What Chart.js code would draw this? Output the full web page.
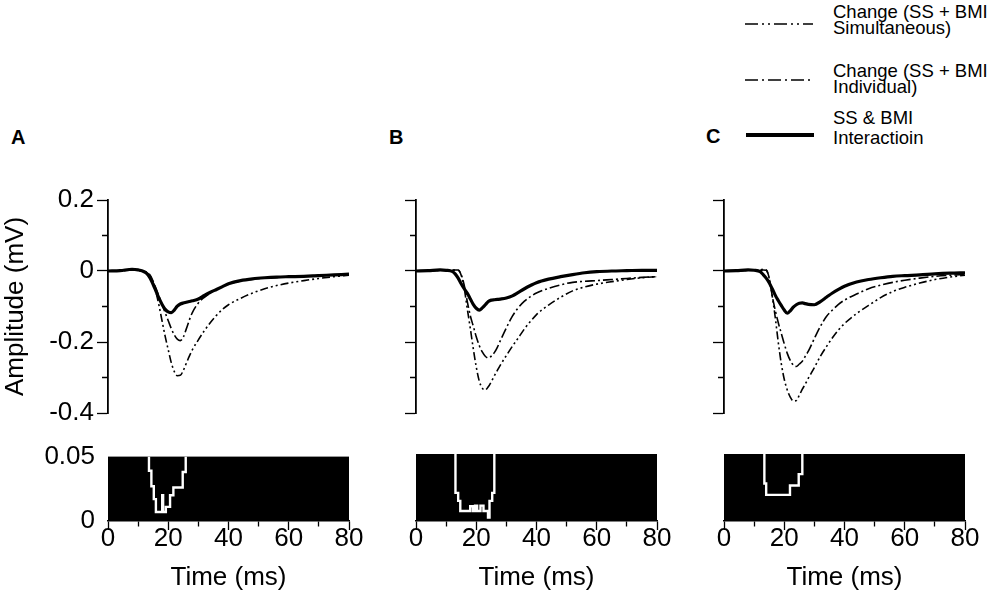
<!DOCTYPE html>
<html><head><meta charset="utf-8">
<script src="https://cdn.jsdelivr.net/npm/chart.js@4.4.0/dist/chart.umd.min.js"></script>
<style>
html,body{margin:0;padding:0;background:#fff;width:992px;height:603px;overflow:hidden;}
body{position:relative;font-family:"Liberation Sans",Arial,Helvetica,sans-serif;color:#000;}
canvas{position:absolute;}
.pl{position:absolute;font-weight:bold;font-size:20px;line-height:20px;}
.leg{position:absolute;left:833px;font-size:18.5px;line-height:18px;white-space:nowrap;}
svg{position:absolute;left:0;top:0;}
</style></head><body>
<canvas id="topA"></canvas><canvas id="topB"></canvas><canvas id="topC"></canvas>
<canvas id="botA"></canvas><canvas id="botB"></canvas><canvas id="botC"></canvas>
<div class="pl" style="left:11px;top:127px">A</div>
<div class="pl" style="left:389px;top:127px">B</div>
<div class="pl" style="left:706px;top:126px">C</div>
<svg width="992" height="160">
<line x1="745" y1="24" x2="813" y2="24" stroke="#000" stroke-width="1.6" stroke-dasharray="13 4 2 4 2 4"/>
<line x1="745" y1="80" x2="813" y2="80" stroke="#000" stroke-width="1.6" stroke-dasharray="13 4 2 4"/>
<line x1="746" y1="135" x2="814" y2="135" stroke="#000" stroke-width="4"/>
</svg>
<div class="leg" style="top:3px">Change (SS + BMI</div>
<div class="leg" style="top:19px">Simultaneous)</div>
<div class="leg" style="top:62px">Change (SS + BMI</div>
<div class="leg" style="top:78px">Individual)</div>
<div class="leg" style="top:109px">SS &amp; BMI</div>
<div class="leg" style="top:129px">Interactioin</div>
<script>
// ---- data ----
const time = [0,4,8,10,12,13,14,15,16,17,18,19,20,21,22,23,24,25,26,27,28,30,32,34,36,38,40,44,48,52,56,60,65,70,75,80];

const interA = [0,0.001,0.005,0.003,-0.002,-0.008,-0.02,-0.038,-0.058,-0.078,-0.095,-0.108,-0.115,-0.117,-0.11,-0.099,-0.093,-0.09,-0.088,-0.086,-0.084,-0.079,-0.069,-0.06,-0.052,-0.044,-0.036,-0.027,-0.022,-0.019,-0.017,-0.016,-0.015,-0.013,-0.011,-0.009];
const indivA = [0,0,0.003,0.002,-0.002,-0.006,-0.015,-0.03,-0.05,-0.073,-0.096,-0.118,-0.14,-0.162,-0.18,-0.192,-0.196,-0.186,-0.163,-0.138,-0.117,-0.09,-0.074,-0.062,-0.052,-0.044,-0.037,-0.028,-0.023,-0.02,-0.018,-0.016,-0.014,-0.012,-0.011,-0.01];
const simulA = [0,0,0.003,0.002,-0.001,-0.004,-0.012,-0.03,-0.062,-0.1,-0.143,-0.185,-0.222,-0.258,-0.283,-0.295,-0.294,-0.28,-0.26,-0.24,-0.222,-0.194,-0.168,-0.145,-0.125,-0.108,-0.095,-0.077,-0.062,-0.05,-0.041,-0.034,-0.027,-0.021,-0.016,-0.012];

const interB = [0,0.001,0.003,0.002,-0.001,-0.008,-0.02,-0.036,-0.05,-0.062,-0.078,-0.094,-0.105,-0.11,-0.104,-0.095,-0.086,-0.082,-0.081,-0.08,-0.079,-0.076,-0.07,-0.06,-0.05,-0.041,-0.033,-0.023,-0.016,-0.01,-0.005,-0.002,0,0.001,0.002,0.002];
const indivB = [0,0,0.002,0.002,0.002,0.003,0.003,-0.01,-0.04,-0.085,-0.125,-0.155,-0.185,-0.21,-0.228,-0.24,-0.245,-0.24,-0.23,-0.215,-0.196,-0.16,-0.127,-0.103,-0.085,-0.072,-0.062,-0.049,-0.039,-0.032,-0.029,-0.027,-0.024,-0.021,-0.018,-0.016];
const simulB = [0,0,0.002,0.002,0.002,0.003,0.002,-0.012,-0.048,-0.105,-0.16,-0.218,-0.27,-0.31,-0.33,-0.335,-0.326,-0.312,-0.295,-0.28,-0.265,-0.238,-0.212,-0.188,-0.163,-0.142,-0.123,-0.096,-0.074,-0.056,-0.045,-0.037,-0.03,-0.024,-0.019,-0.016];

const interC = [0,0.001,0.003,0.002,-0.002,-0.01,-0.02,-0.033,-0.05,-0.068,-0.083,-0.097,-0.11,-0.119,-0.112,-0.102,-0.095,-0.091,-0.09,-0.092,-0.094,-0.095,-0.086,-0.074,-0.062,-0.052,-0.043,-0.031,-0.024,-0.019,-0.015,-0.013,-0.011,-0.008,-0.006,-0.005];
const indivC = [0,0,0.002,0.002,0.002,0.003,0.002,-0.02,-0.07,-0.11,-0.145,-0.175,-0.205,-0.232,-0.252,-0.265,-0.269,-0.262,-0.254,-0.24,-0.226,-0.19,-0.156,-0.128,-0.11,-0.094,-0.082,-0.065,-0.05,-0.04,-0.032,-0.026,-0.02,-0.015,-0.012,-0.01];
const simulC = [0,0,0.002,0.002,0.003,0.005,0.003,-0.02,-0.07,-0.13,-0.2,-0.26,-0.305,-0.335,-0.355,-0.366,-0.365,-0.35,-0.333,-0.318,-0.302,-0.272,-0.24,-0.213,-0.188,-0.166,-0.148,-0.12,-0.097,-0.075,-0.058,-0.046,-0.034,-0.024,-0.017,-0.012];

// p-value traces (step changes: time, value)
const pTimeA = [13.6,13.6,14.4,15.2,15.9,18.0,18.3,19.2,20.6,21.7,24.8,25.8];
const pValA  = [0.05,0.039,0.027,0.017,0.007,0.020,0.007,0.011,0.020,0.026,0.038,0.05];
const pTimeB = [13.1,13.1,14.0,14.7,18.0,18.9,19.6,20.3,21.4,22.4,23.9,24.4,25.3,26.0];
const pValB  = [0.05,0.021,0.015,0.0075,0.011,0.0075,0.0115,0.0075,0.0115,0.0075,0.0025,0.015,0.021,0.05];
const pTimeC = [13.4,13.4,14.0,21.9,24.8,26.0];
const pValC  = [0.05,0.028,0.0195,0.0265,0.035,0.05];

const ampTickLabels = {'0.2':'0.2','0':'0','-0.2':'-0.2','-0.4':'-0.4'};
const timeTickLabels = ['0','20','40','60','80'];
const pTickLabels = ['0','0.05'];

// ---- drawing ----
Chart.defaults.font.family = '"Liberation Sans", Arial, Helvetica, sans-serif';
Chart.defaults.color = '#000';
const FS = 26;
const DASH_SIM = [8,3,2,3,2,3];
const DASH_IND = [10,3,2,3];

function pts(xs, ys){ return xs.map((x,i)=>({x:x, y:ys[i]})); }
function majorAmp(v){ return Math.abs(Math.round(v*10)) % 2 === 0; }

function topChart(id, left, axisW, inter, indiv, simul, showLabels){
  const cv = document.getElementById(id);
  cv.width = axisW + 241 + 20; cv.height = 254;
  cv.style.left = left + 'px'; cv.style.top = '180px';
  new Chart(cv, {
    type:'line',
    data:{datasets:[
      {data:pts(time, inter), borderColor:'#000', borderWidth:3.2, pointRadius:0, cubicInterpolationMode:'monotone', fill:false},
      {data:pts(time, indiv), borderColor:'#000', borderWidth:1.6, borderDash:DASH_IND, pointRadius:0, cubicInterpolationMode:'monotone', fill:false},
      {data:pts(time, simul), borderColor:'#000', borderWidth:1.6, borderDash:DASH_SIM, pointRadius:0, cubicInterpolationMode:'monotone', fill:false}
    ]},
    options:{
      responsive:false, animation:false,
      layout:{padding:{left:0,right:20,top:20,bottom:21}},
      plugins:{legend:{display:false}, tooltip:{enabled:false}},
      scales:{
        x:{type:'linear', min:0, max:80, display:false},
        y:{type:'linear', min:-0.4, max:0.2,
           afterFit(s){ s.width = axisW; },
           border:{display:true, color:'#000', width:1.8},
           grid:{drawOnChartArea:false, tickLength:11, color:'#000', tickColor:'#000', tickWidth:1.3,
                 tickBorderDash:(c)=> (c.tick && majorAmp(c.tick.value)) ? [] : [0,5,30,0]},
           ticks:{stepSize:0.1, padding:3, font:{size:FS}, color:'#000',
                  callback:(v)=>{ if(!showLabels || !majorAmp(v)) return ''; const k = Math.abs(v)<1e-9 ? '0' : v.toFixed(1); return ampTickLabels[k] || ''; }},
           title:{display:showLabels, text:'Amplitude (mV)', font:{size:FS}, padding:{top:0,bottom:0}, color:'#000'}
        }
      }
    }
  });
}

const blackBox = {id:'blackBox', beforeDatasetsDraw(chart){
  const {ctx, chartArea:a} = chart;
  ctx.save(); ctx.fillStyle = '#000'; ctx.fillRect(a.left, a.top, a.right-a.left, a.bottom-a.top); ctx.restore();
}};

function bottomChart(id, left, axisW, pt, pv, showY){
  const cv = document.getElementById(id);
  cv.width = axisW + 241 + 20; cv.height = 167;
  cv.style.left = left + 'px'; cv.style.top = '436px';
  new Chart(cv, {
    type:'line',
    data:{datasets:[
      {data:pts(pt, pv), borderColor:'#fff', borderWidth:2.4, pointRadius:0, stepped:'before', fill:false}
    ]},
    options:{
      responsive:false, animation:false,
      layout:{padding:{left:0,right:20,top:18,bottom:6}},
      plugins:{legend:{display:false}, tooltip:{enabled:false}},
      scales:{
        x:{type:'linear', min:0, max:80,
           afterFit(s){ s.height = 76; },
           border:{display:true, color:'#000', width:1.5},
           grid:{drawOnChartArea:false, tickLength:9, tickColor:'#000', tickWidth:1.3,
                 tickBorderDash:(c)=> (c.tick && Math.round(c.tick.value) % 20 === 0) ? [] : [5,40]},
           ticks:{stepSize:10, padding:-7, maxRotation:0, autoSkip:false, font:{size:FS}, color:'#000',
                  callback:(v)=> Math.round(v) % 20 === 0 ? timeTickLabels[Math.round(v)/20] : ''},
           title:{display:true, text:'Time (ms)', font:{size:FS}, padding:{top:0,bottom:4}, color:'#000'}
        },
        y:{type:'linear', min:0, max:0.05,
           afterFit(s){ s.width = axisW; },
           border:{display:false},
           grid:{display:false},
           ticks:{display:showY, stepSize:0.05, padding:5, font:{size:FS}, color:'#000',
                  callback:(v)=> v < 0.025 ? pTickLabels[0] : pTickLabels[1]}
        }
      }
    },
    plugins:[blackBox]
  });
}

topChart('topA', 0, 108, interA, indivA, simulA, true);
topChart('topB', 396, 20, interB, indivB, simulB, false);
topChart('topC', 704, 20, interC, indivC, simulC, false);
bottomChart('botA', 0, 108, pTimeA, pValA, true);
bottomChart('botB', 396, 20, pTimeB, pValB, false);
bottomChart('botC', 704, 20, pTimeC, pValC, false);
</script>
</body></html>
